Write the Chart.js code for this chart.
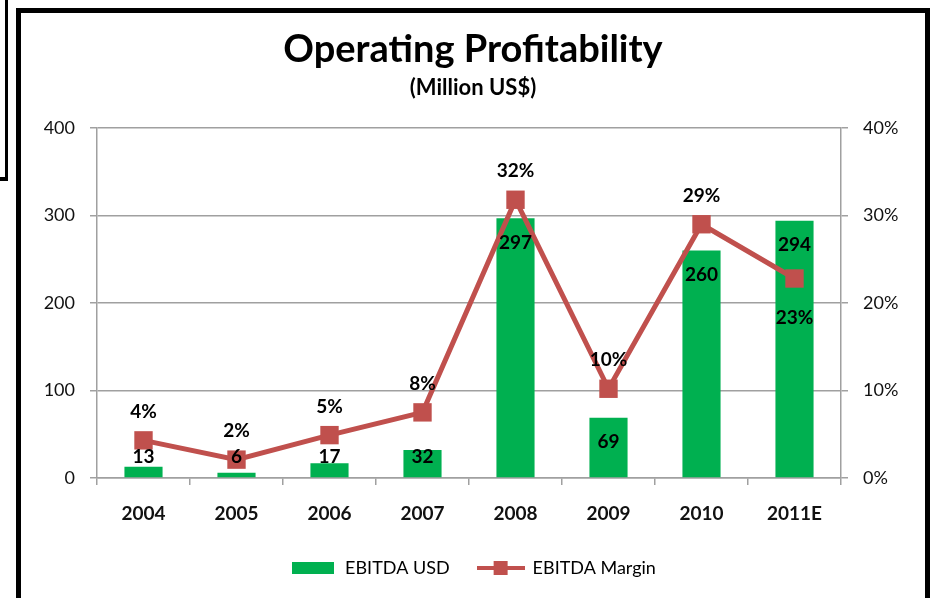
<!DOCTYPE html>
<html>
<head>
<meta charset="utf-8">
<title>Operating Profitability</title>
<script src="https://cdn.jsdelivr.net/npm/chart.js@4.4.0/dist/chart.umd.min.js"></script>
<style>
    html, body { margin: 0; padding: 0; background: #fff; overflow: hidden; }
    #wrap { position: relative; width: 934px; height: 598px; }
    /* black chart border, bottom edge runs off the page */
    .frame { position: absolute; left: 16px; top: 8px; width: 904px; height: 620px; border: 5px solid #000; }
    /* left-over piece of a neighbouring box */
    .stub-v { position: absolute; left: 5px; top: 0; width: 3px; height: 181px; background: #000; }
    .stub-h { position: absolute; left: 0; top: 177px; width: 8px; height: 4px; background: #000; }
    canvas { position: absolute; left: 0; top: 0; }
</style>
</head>
<body>
<div id="wrap">
    <div class="stub-v"></div>
    <div class="stub-h"></div>
    <div class="frame"></div>
    <canvas id="profitChart" width="934" height="598"></canvas>
</div>
<script>
// Chart data
const years = ['2004', '2005', '2006', '2007', '2008', '2009', '2010', '2011E'];
const ebitdaUsd = [13, 6, 17, 32, 297, 69, 260, 294];        // Million US$
const ebitdaMargin = [4.3, 2.1, 4.9, 7.5, 31.8, 10.2, 29.0, 22.8]; // %
const marginLabelSide = ['above', 'above', 'above', 'above', 'above', 'above', 'above', 'below'];
const usdTicks = [0, 100, 200, 300, 400];
const marginTicks = [0, 10, 20, 30, 40];

const FONT = 'Lato, "Open Sans", sans-serif';
const GREEN = '#00B050';
const RED = '#C0504D';
const GRID = '#a0a0a0';
const TEXT = '#111';

// Small canvases used as legend symbols
function makeSwatch(w, h, draw) {
    const c = document.createElement('canvas');
    c.width = w;
    c.height = h;
    draw(c.getContext('2d'));
    return c;
}
const barSwatch = makeSwatch(42, 12, g => {
    g.fillStyle = GREEN;
    g.fillRect(0, 0, 42, 12);
});
const lineSwatch = makeSwatch(48, 14, g => {
    g.fillStyle = RED;
    g.fillRect(0, 5, 48, 4);
    g.fillRect(17, 0, 14, 14);
});

// Value labels on bars and line points
const valueLabels = {
    id: 'valueLabels',
    afterDatasetsDraw(chart) {
        const ctx = chart.ctx;
        const base = chart.scales.y.getPixelForValue(0);
        ctx.save();
        ctx.font = 'bold 19px ' + FONT;
        ctx.fillStyle = '#000';
        ctx.textAlign = 'center';
        ctx.textBaseline = 'middle';

        chart.getDatasetMeta(0).data.forEach((bar, i) => {
            const y = Math.min(bar.y + 24.5, base - 21);
            ctx.fillText(String(ebitdaUsd[i]), bar.x, y);
        });

        chart.getDatasetMeta(1).data.forEach((pt, i) => {
            const y = marginLabelSide[i] === 'below' ? pt.y + 39 : pt.y - 28.5;
            ctx.fillText(Math.round(ebitdaMargin[i]) + '%', pt.x, y);
        });
        ctx.restore();
    }
};

const ctx = document.getElementById('profitChart').getContext('2d');

window.profitChart = new Chart(ctx, {
    type: 'bar',
    data: {
        labels: years,
        datasets: [
            {
                label: 'EBITDA USD',
                data: ebitdaUsd,
                backgroundColor: GREEN,
                borderWidth: 0,
                categoryPercentage: 1,
                barPercentage: 0.41,
                yAxisID: 'y',
                order: 1
            },
            {
                type: 'line',
                label: 'EBITDA Margin',
                data: ebitdaMargin,
                borderColor: RED,
                backgroundColor: RED,
                borderWidth: 5,
                tension: 0,
                pointStyle: 'rect',
                pointRadius: 13,
                pointBorderWidth: 0,
                yAxisID: 'y1',
                order: 0
            }
        ]
    },
    options: {
        responsive: false,
        animation: false,
        events: [],
        layout: {
            padding: { left: 12, right: 0, top: 0, bottom: 11 }
        },
        scales: {
            x: {
                grid: {
                    offset: true,
                    drawOnChartArea: false,
                    color: GRID,
                    lineWidth: 1.5,
                    tickLength: 7
                },
                border: { color: GRID, width: 1.5 },
                ticks: {
                    color: TEXT,
                    padding: 17,
                    font: { family: FONT, size: 19, weight: 'bold' }
                },
                afterFit: scale => { scale.height = 53; }
            },
            y: {
                position: 'left',
                min: usdTicks[0],
                max: usdTicks[usdTicks.length - 1],
                afterBuildTicks: scale => {
                    scale.ticks = usdTicks.map(v => ({ value: v }));
                },
                grid: { color: GRID, lineWidth: 1.5, tickLength: 7 },
                border: { color: GRID, width: 1.5 },
                ticks: {
                    color: TEXT,
                    padding: 15,
                    font: { family: FONT, size: 18 }
                },
                afterFit: scale => { scale.width = 85; }
            },
            y1: {
                position: 'right',
                min: marginTicks[0],
                max: marginTicks[marginTicks.length - 1],
                afterBuildTicks: scale => {
                    scale.ticks = marginTicks.map(v => ({ value: v }));
                },
                grid: { drawOnChartArea: false, color: GRID, lineWidth: 1.5, tickLength: 7 },
                border: { color: GRID, width: 1.5 },
                ticks: {
                    color: TEXT,
                    padding: 15,
                    font: { family: FONT, size: 18 },
                    callback: v => v + '%'
                },
                afterFit: scale => { scale.width = 93; }
            }
        },
        plugins: {
            title: {
                display: true,
                text: 'Operating Profitability',
                color: '#000',
                font: { family: FONT, size: 38, weight: 'bold' },
                padding: { top: 27.2, bottom: 0 }
            },
            subtitle: {
                display: true,
                text: '(Million US$)',
                color: '#000',
                font: { family: FONT, size: 22, weight: 'bold' },
                padding: { top: 2, bottom: 26.8 }
            },
            legend: {
                position: 'bottom',
                labels: {
                    color: TEXT,
                    font: { family: FONT, size: 18 },
                    padding: 28,
                    usePointStyle: true,
                    pointStyleWidth: 46,
                    generateLabels: () => [
                        { text: 'EBITDA USD', pointStyle: barSwatch, fillStyle: GREEN, strokeStyle: GREEN, lineWidth: 0, hidden: false, datasetIndex: 0 },
                        { text: 'EBITDA Margin', pointStyle: lineSwatch, fillStyle: RED, strokeStyle: RED, lineWidth: 0, hidden: false, datasetIndex: 1 }
                    ]
                }
            },
            tooltip: { enabled: false }
        }
    },
    plugins: [valueLabels]
});
</script>
</body>
</html>
